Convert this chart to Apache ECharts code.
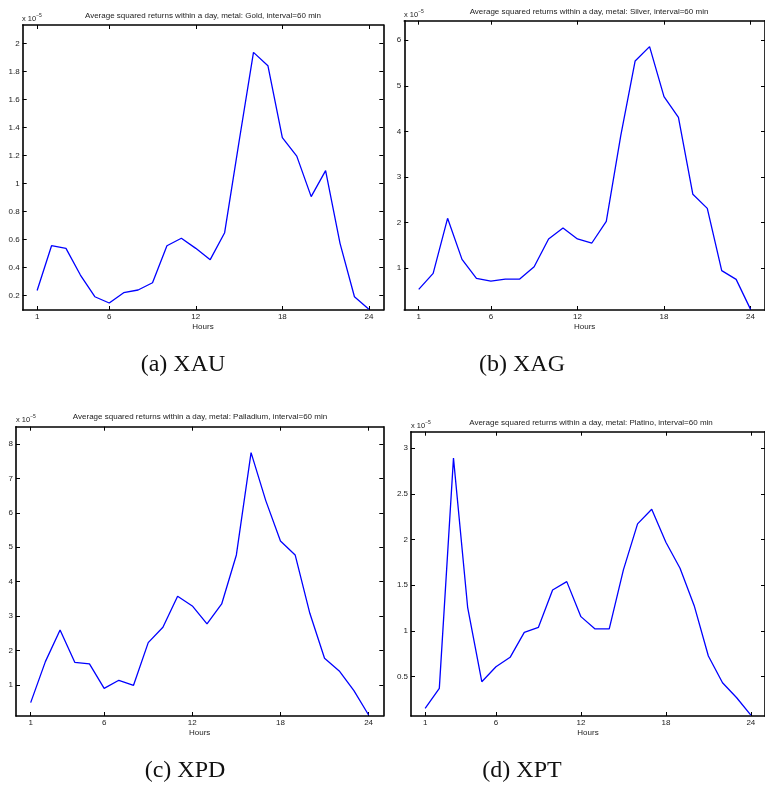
<!DOCTYPE html>
<html>
<head>
<meta charset="utf-8">
<script src="https://cdn.jsdelivr.net/npm/echarts@6/dist/echarts.min.js"></script>
<style>
html,body{margin:0;padding:0;background:#fff;}
#chart{width:765px;height:790px;}
</style>
</head>
<body>
<div id="chart"></div>
<script>
// ---- data (values in units of 1e-5) ----
const hours = [1,2,3,4,5,6,7,8,9,10,11,12,13,14,15,16,17,18,19,20,21,22,23,24];
const gold = [0.235,0.555,0.536,0.345,0.190,0.145,0.219,0.238,0.290,0.555,0.608,0.536,0.455,0.648,1.30,1.938,1.843,1.328,1.196,0.906,1.092,0.572,0.190,0.100];
const silver = [0.532,0.883,2.091,1.190,0.773,0.714,0.758,0.758,1.029,1.637,1.878,1.637,1.549,2.025,3.90,5.546,5.861,4.763,4.309,2.618,2.310,0.942,0.751,0.092];
const palladium = [0.488,1.679,2.598,1.660,1.611,0.904,1.137,0.991,2.230,2.676,3.576,3.295,2.773,3.353,4.776,7.748,6.354,5.183,4.776,3.082,1.775,1.408,0.836,0.130];
const platino = [0.153,0.372,2.891,1.259,0.445,0.609,0.712,0.985,1.040,1.449,1.540,1.157,1.022,1.022,1.668,2.172,2.332,1.971,1.686,1.277,0.726,0.434,0.270,0.080];
const xTickLabels = [1,6,12,18,24];
const goldTicks = [0.2,0.4,0.6,0.8,1,1.2,1.4,1.6,1.8,2];
const silverTicks = [1,2,3,4,5,6];
const palladiumTicks = [1,2,3,4,5,6,7,8];
const platinoTicks = [0.5,1,1.5,2,2.5,3];
const metalNames = ['Gold','Silver','Palladium','Platino'];
const captions = ['(a) XAU','(b) XAG','(c) XPD','(d) XPT'];
const seriesValues = [gold, silver, palladium, platino];
const yTicks = [goldTicks, silverTicks, palladiumTicks, platinoTicks];

// ---- layout ----
const panels = [
  {left:22.7, top:25,    width:360.6, height:285, ymin:0.095, ymax:2.134, titleX:203, titleY:15.7, multX:22, multY:19, capX:183, capY:365},
  {left:404.3,top:20.7,  width:366.7, height:289.3, ymin:0.078, ymax:6.43, titleX:589, titleY:11.7, multX:404, multY:14.5, capX:522, capY:365},
  {left:16,   top:426.7, width:367.3, height:289.3, ymin:0.10, ymax:8.50, titleX:200, titleY:416.7, multX:16, multY:420, capX:185, capY:771},
  {left:411,  top:431.7, width:361.3, height:284.3, ymin:0.07, ymax:3.18, titleX:591, titleY:422.7, multX:411, multY:425.5, capX:522, capY:771}
];

const labelFont = 'Liberation Sans, Arial, Helvetica, sans-serif';
const grids = [], xAxes = [], yAxes = [], series = [], graphics = [];
panels.forEach((p, i) => {
  grids.push({left:p.left, top:p.top, width:p.width, height:p.height, show:false, containLabel:false});
  const tickStyle = {show:true, inside:true, length:4, lineStyle:{color:'#000', width:1}};
  const axLine = {show:true, onZero:false, lineStyle:{color:'#000', width:1.6}};
  xAxes.push({
    type:'value', gridIndex:i, min:0, max:25, position:'bottom',
    axisLine:axLine, splitLine:{show:false},
    axisTick:Object.assign({customValues:xTickLabels}, tickStyle),
    axisLabel:{show:true, customValues:xTickLabels, margin:3, fontSize:8, color:'#222', fontFamily:labelFont},
    name:'Hours', nameLocation:'middle', nameGap:13,
    nameTextStyle:{fontSize:8, color:'#222', fontFamily:labelFont}
  });
  xAxes.push({
    type:'value', gridIndex:i, min:0, max:25, position:'top',
    axisLine:axLine, splitLine:{show:false},
    axisTick:Object.assign({customValues:xTickLabels}, tickStyle),
    axisLabel:{show:false}
  });
  yAxes.push({
    type:'value', gridIndex:i, min:p.ymin, max:p.ymax, position:'left',
    axisLine:axLine, splitLine:{show:false},
    axisTick:Object.assign({customValues:yTicks[i]}, tickStyle),
    axisLabel:{show:true, customValues:yTicks[i], margin:3, fontSize:8, color:'#222', fontFamily:labelFont}
  });
  yAxes.push({
    type:'value', gridIndex:i, min:p.ymin, max:p.ymax, position:'right',
    axisLine:axLine, splitLine:{show:false},
    axisTick:Object.assign({customValues:yTicks[i]}, tickStyle),
    axisLabel:{show:false}
  });
  series.push({
    type:'line', xAxisIndex:2*i, yAxisIndex:2*i,
    data:hours.map((h, k) => [h, seriesValues[i][k]]),
    showSymbol:false, symbol:'none', smooth:false,
    lineStyle:{color:'#0000ff', width:1.3}, clip:false
  });
  graphics.push({
    type:'text', x:p.titleX, y:p.titleY,
    style:{text:'Average squared returns within a day, metal: ' + metalNames[i] + ', interval=60 min',
      font:'8px ' + labelFont, fill:'#222', align:'center', verticalAlign:'middle'}
  });
  graphics.push({
    type:'text', x:p.multX, y:p.multY,
    style:{text:'x 10{s|\u22125}', font:'7.5px ' + labelFont, fill:'#222', align:'left', verticalAlign:'middle',
      rich:{s:{fontSize:5, fontFamily:labelFont, fill:'#222', verticalAlign:'top', padding:[0,0,6,0]}}}
  });
  graphics.push({
    type:'text', x:p.capX, y:p.capY,
    style:{text:captions[i], font:'24px "Liberation Serif", "Times New Roman", serif', fill:'#111', align:'center', verticalAlign:'middle'}
  });
});

const chart = echarts.init(document.getElementById('chart'));
chart.setOption({
  animation:false,
  backgroundColor:'#fff',
  grid:grids, xAxis:xAxes, yAxis:yAxes, series:series, graphic:graphics
});
</script>
</body>
</html>
